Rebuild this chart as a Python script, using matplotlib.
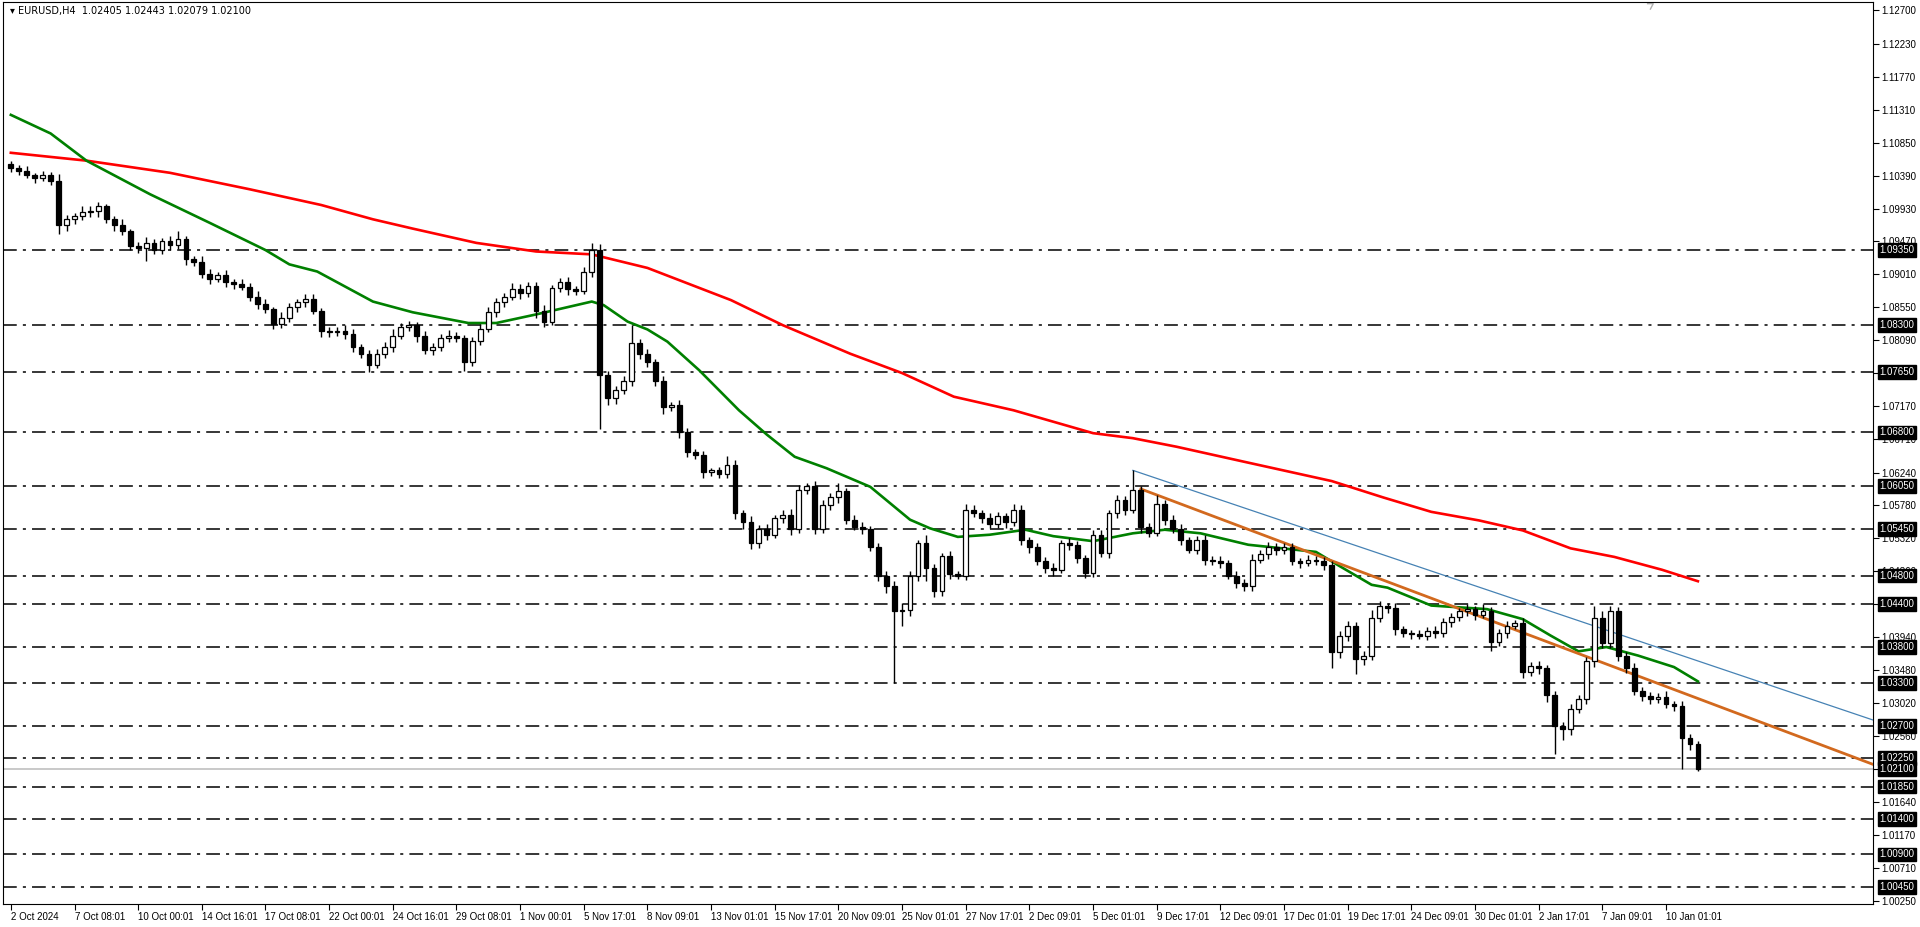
import matplotlib
matplotlib.use("Agg")
import matplotlib.pyplot as plt
from matplotlib.transforms import blended_transform_factory

plt.rcParams['font.family'] = ['Liberation Sans', 'DejaVu Sans']

# ---- data (2-bar candles, x in H4 bar index) ----
closes = [1.1050,1.1045,1.1040,1.1036,1.1040,1.1032,1.0970,1.0978,1.0982,1.0988,
          1.0990,1.0996,1.0978,1.0970,1.0962,1.0940,1.0938,1.0945,1.0935,1.0948,
          1.0942,1.0950,1.0922,1.0918,1.0902,1.0895,1.0900,1.0890,1.0888,1.0884,
          1.0870,1.0860,1.0852,1.0832,1.0840,1.0855,1.0862,1.0866,1.0850,1.0822,
          1.0820,1.0822,1.0818,1.0800,1.0790,1.0775,1.0790,1.0800,1.0815,1.0828,
          1.0830,1.0815,1.0795,1.0800,1.0812,1.0815,1.0812,1.0778,1.0808,1.0825,
          1.0848,1.0862,1.0870,1.0880,1.0875,1.0885,1.0850,1.0835,1.0882,1.0890,
          1.0880,1.0878,1.0905,1.0935,1.0760,1.0728,1.0740,1.0752,1.0805,1.0790,
          1.0778,1.0752,1.0716,1.0718,1.0680,1.0652,1.0648,1.0625,1.0627,1.0622,
          1.0635,1.0567,1.0555,1.0525,1.0545,1.0537,1.0560,1.0565,1.0545,1.0600,
          1.0605,1.0545,1.0578,1.0590,1.0598,1.0558,1.0548,1.0545,1.0520,1.0480,
          1.0465,1.0430,1.0432,1.0480,1.0525,1.0490,1.0458,1.0507,1.0482,1.0480,
          1.0572,1.0567,1.0560,1.0552,1.0563,1.0555,1.0572,1.0530,1.0520,1.0500,
          1.0490,1.0488,1.0525,1.0522,1.0505,1.0483,1.0537,1.0512,1.0567,1.0585,
          1.0572,1.0600,1.0548,1.0540,1.0580,1.0558,1.0545,1.0530,1.0516,1.0530,
          1.0502,1.0500,1.0498,1.0480,1.0470,1.0465,1.0502,1.0510,1.0520,1.0515,
          1.0520,1.0500,1.0498,1.0502,1.0500,1.0495,1.0373,1.0395,1.0410,1.0363,
          1.0368,1.0420,1.0437,1.0435,1.0405,1.0400,1.0398,1.0396,1.0403,1.0400,
          1.0415,1.0422,1.0430,1.0433,1.0425,1.0430,1.0387,1.0400,1.0410,1.0414,
          1.0345,1.0354,1.0350,1.0313,1.0270,1.0265,1.0294,1.0308,1.0360,1.0420,
          1.0385,1.0430,1.0368,1.0350,1.0318,1.0312,1.0308,1.0310,1.0300,1.0298,
          1.0253,1.0244,1.0210]
first_open = 1.1055
# wick sizes in pips (0.0001)
upper = [5,4,8,3,6,4,10,6,5,8, 7,6,4,5,9,3,6,8,5,4, 6,12,5,4,8,6,5,7,4,6,
         5,8,6,4,9,6,5,7,8,4, 6,5,8,6,4,5,7,6,10,5, 6,4,7,5,6,8,5,4,6,7,
         8,6,5,9,7,6,5,8,4,6, 7,5,6,10,8,6,5,7,25,5, 6,4,7,5,8,6,5,6,4,5,
         12,6,5,8,6,7,5,6,8,6, 5,7,8,6,12,5,6,7,4,5, 6,8,10,6,5,12,6,5,7,4,
         8,6,5,7,6,5,8,6,4,5, 6,7,5,8,6,4,7,6,5,8, 6,28,5,6,12,5,6,7,4,5,
         6,5,7,4,6,5,8,6,7,5, 6,5,4,7,5,6,5,8,6,5, 6,12,8,5,6,5,4,6,5,7,
         5,6,5,7,4,10,6,5,7,4, 6,5,7,5,6,5,6,5,6,17, 10,8,6,5,7,6,5,6,8,5,
         6,5,5]
lower = [6,5,4,7,5,6,12,8,6,5, 7,9,5,8,6,5,7,18,6,5, 7,6,8,5,6,7,5,6,8,5,
         6,7,5,8,6,5,7,6,5,8, 6,5,7,8,6,10,5,6,7,5, 6,8,5,7,6,5,6,12,5,6,
         5,7,6,5,8,6,10,7,5,6, 8,6,5,7,75,10,8,6,7,8, 6,7,10,6,8,7,5,8,6,5,
         6,8,10,8,6,7,5,6,8,5, 6,7,5,6,8,6,5,7,6,8, 10,100,20,8,7,18,8,6,7,5,
         6,5,7,6,5,8,6,7,8,6, 7,8,5,6,8,7,5,6,8,6, 7,5,8,6,5,7,6,8,5,6,
         8,6,7,5,8,7,6,5,7,6, 5,6,8,5,6,7,22,8,6,20, 8,6,5,7,8,6,7,5,6,8,
         6,7,5,6,7,5,12,6,8,5, 8,6,7,10,40,15,8,6,7,8, 6,7,8,6,5,7,8,6,5,7,
         43,8,4]

green_x = [0,10,19,35,50,64,70,77,91,101,115,122,132,146,149,155,160,165,173,183,190,197,205,
           216,221,226,231,238,246,255,262,272,282,290,299,311,328,334,342,346,357,371,380,387,
           394,401,409,418,424]
green_y = [1.1124,1.1098,1.1060,1.1013,1.0973,1.0935,1.0915,1.0905,1.0863,1.0848,1.0833,1.0833,
           1.0845,1.0863,1.0858,1.0835,1.0824,1.0807,1.0767,1.0711,1.0677,1.0646,1.0630,1.0604,
           1.0581,1.0558,1.0546,1.0534,1.0537,1.0544,1.0535,1.0528,1.0539,1.0544,1.0539,1.0523,
           1.0513,1.0493,1.0467,1.0463,1.0438,1.0433,1.0419,1.0396,1.0374,1.0380,1.0368,1.0352,1.0332]
red_x = [0,19,40,60,78,91,101,117,132,146,160,181,194,211,224,237,252,262,272,282,293,310,332,
         345,357,369,380,392,403,415,424]
red_y = [1.1071,1.1060,1.1043,1.1020,1.0998,1.0978,1.0965,1.0945,1.0933,1.0929,1.0910,1.0865,
         1.0830,1.0790,1.0763,1.0730,1.0711,1.0695,1.0679,1.0672,1.0660,1.0639,1.0612,1.0589,
         1.0569,1.0557,1.0543,1.0518,1.0506,1.0488,1.0472]

blue_line = ([282, 468], [1.0627, 1.0278])
orange_line = ([284, 468], [1.0601, 1.0216])

levels = [1.0935,1.0830,1.0765,1.0680,1.0605,1.0545,1.0480,1.0440,1.0380,1.0330,
          1.0270,1.0225,1.0185,1.0140,1.0090,1.0045]
bid = 1.0210
price_ticks = [1.12700,1.12230,1.11770,1.11310,1.10850,1.10390,1.09930,1.09470,1.09010,
               1.08550,1.08090,1.07630,1.07170,1.06710,1.06240,1.05780,1.05320,1.04860,
               1.04400,1.03940,1.03480,1.03020,1.02560,1.02100,1.01640,1.01170,1.00710,1.00250]
x_labels = ["2 Oct 2024","7 Oct 08:01","10 Oct 00:01","14 Oct 16:01","17 Oct 08:01",
            "22 Oct 00:01","24 Oct 16:01","29 Oct 08:01","1 Nov 00:01","5 Nov 17:01",
            "8 Nov 09:01","13 Nov 01:01","15 Nov 17:01","20 Nov 09:01","25 Nov 01:01",
            "27 Nov 17:01","2 Dec 09:01","5 Dec 01:01","9 Dec 17:01","12 Dec 09:01",
            "17 Dec 01:01","19 Dec 17:01","24 Dec 09:01","30 Dec 01:01","2 Jan 17:01",
            "7 Jan 09:01","10 Jan 01:01"]
x_label_bars = [16 * i for i in range(len(x_labels))]

# ---- figure ----
fig = plt.figure(figsize=(19.2, 9.27), dpi=100)
ax = fig.add_axes([0.0015, 0.025, 0.974, 0.973])
ax.set_xlim(-2, 468)
ax.set_ylim(1.0021, 1.1282)

for lv in levels:
    ax.axhline(lv, color="black", lw=1.1, ls=(0, (9, 4, 2, 4)), zorder=1)
ax.axhline(bid, color="#c0c0c0", lw=1.2, zorder=1)

ax.plot(red_x, red_y, color="#ff0000", lw=1.9, zorder=3)
ax.plot(green_x, green_y, color="#008000", lw=1.9, zorder=3)
ax.plot(*blue_line, color="#4682b4", lw=0.9, zorder=3)
ax.plot(*orange_line, color="#d2691e", lw=2.0, zorder=3)

opens = [first_open] + closes[:-1]
for k, c in enumerate(closes):
    o = opens[k]
    x = 2 * k
    hi = max(o, c) + upper[k] * 1e-4
    lo = min(o, c) - lower[k] * 1e-4
    ax.vlines(x, lo, hi, color="black", lw=1.0, zorder=4)
    bottom = min(o, c)
    h = max(abs(c - o), 0.00005)
    fc = "white" if c >= o else "black"
    ax.bar(x, h, bottom=bottom, width=1.2, facecolor=fc, edgecolor="black", lw=0.9, zorder=5)

ax.yaxis.tick_right()
ax.set_yticks(price_ticks)
ax.set_yticklabels([f"{p:.5f}" for p in price_ticks], fontsize=7)
ax.set_xticks(x_label_bars)
ax.set_xticklabels(x_labels, fontsize=7, ha="left")
ax.tick_params(axis="both", length=4, width=0.8, pad=2, direction="out")
for s in ax.spines.values():
    s.set_color("black"); s.set_linewidth(0.8)

tr = blended_transform_factory(ax.transAxes, ax.transData)
for lv in levels + [bid]:
    ax.text(1.0035, lv, f"{lv:.5f}", transform=tr, fontsize=7, color="white",
            va="center", ha="left", zorder=10,
            bbox=dict(boxstyle="square,pad=0.2", facecolor="black", edgecolor="black"))

ax.text(0.004, 0.995, "\u25be EURUSD,H4  1.02405 1.02443 1.02079 1.02100", transform=ax.transAxes,
        fontsize=7, va="top", ha="left", family=['DejaVu Sans'])
ax.plot([0.8795, 0.8825, 0.881], [0.998, 0.998, 0.992], transform=ax.transAxes,
        color="#b0b0b0", lw=1)

fig.savefig("out.png", dpi=100)
